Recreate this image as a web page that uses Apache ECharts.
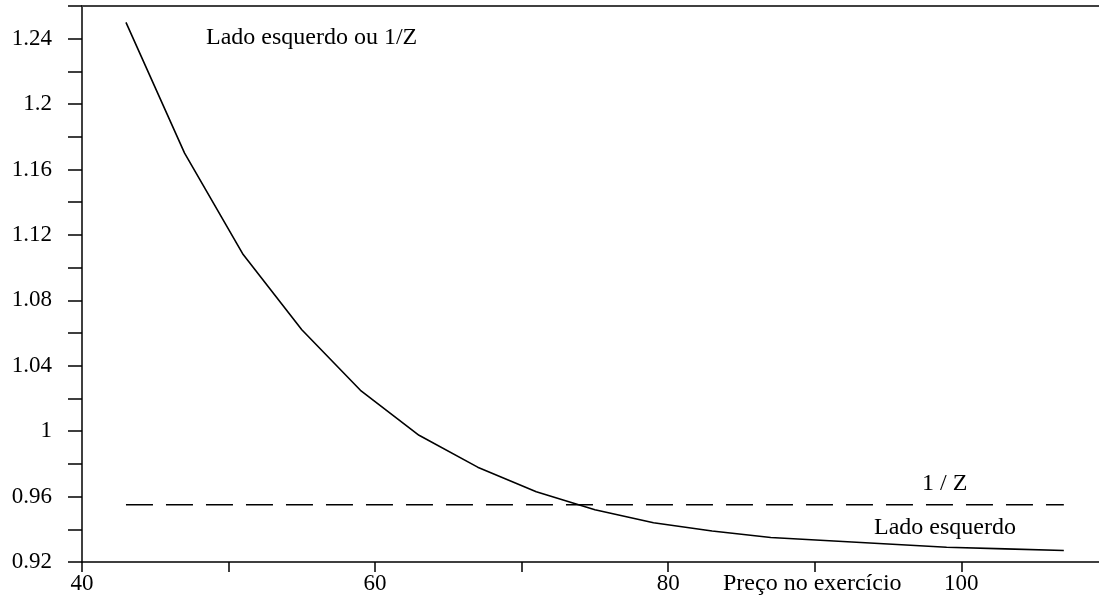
<!DOCTYPE html>
<html>
<head>
<meta charset="utf-8">
<script src="https://cdn.jsdelivr.net/npm/echarts@6/dist/echarts.min.js"></script>
<style>
html,body{margin:0;padding:0;background:#fff;}
#chart{width:1099px;height:600px;}
</style>
</head>
<body>
<div id="chart"></div>
<script>
// Data
var strikes = [43, 47, 51, 55, 59, 63, 67, 71, 75, 79, 83, 87, 91, 95, 99, 103, 107];
var leftSide = [1.250, 1.170, 1.108, 1.062, 1.025, 0.9975, 0.978, 0.963, 0.952, 0.944, 0.939, 0.935, 0.933, 0.931, 0.929, 0.928, 0.927];
var invZStrikes = [43, 107];
var invZValue = 0.955;
var xTicks = [40, 50, 60, 70, 80, 90, 100];
var xTickLabels = [40, 60, 80, 100];
var yTickLabels = ['0.92', '0.96', '1', '1.04', '1.08', '1.12', '1.16', '1.2', '1.24'];

var FONT = 'Liberation Serif';
var chart = echarts.init(document.getElementById('chart'), null, {renderer: 'canvas'});

var lhsData = strikes.map(function (x, i) { return [x, leftSide[i]]; });
var invZData = invZStrikes.map(function (x) { return [x, invZValue]; });

var option = {
  animation: false,
  backgroundColor: '#fff',
  grid: {left: 82, right: 0, top: 6, bottom: 38, containLabel: false},
  xAxis: [{
    type: 'value', min: 40, max: 109.4, position: 'bottom',
    axisLine: {show: true, onZero: false, lineStyle: {color: '#000', width: 1.5}},
    axisTick: {show: true, inside: false, length: 10, customValues: xTicks, lineStyle: {color: '#000', width: 1.5}},
    axisLabel: {
      margin: 10, color: '#000', fontFamily: FONT, fontSize: 23,
      customValues: xTickLabels,
      formatter: function (v) { return String(Math.round(v)); }
    },
    splitLine: {show: false}
  }, {
    type: 'value', min: 40, max: 109.4, position: 'top',
    axisLine: {show: true, onZero: false, lineStyle: {color: '#404040', width: 2}},
    axisTick: {show: false}, axisLabel: {show: false}, splitLine: {show: false}
  }],
  yAxis: {
    type: 'value', min: 0.92, max: 1.26, interval: 0.02,
    axisLine: {show: true, onZero: false, lineStyle: {color: '#000', width: 1.5}},
    axisTick: {show: true, inside: false, length: 14, lineStyle: {color: '#000', width: 1.5}},
    axisLabel: {
      interval: 1, margin: 30, color: '#000', fontFamily: FONT, fontSize: 23,
      formatter: function (v) {
        var s = String(parseFloat(v.toFixed(2)));
        return yTickLabels.indexOf(s) >= 0 ? s : '';
      }
    },
    splitLine: {show: false}
  },
  series: [{
    type: 'line', data: lhsData, symbol: 'none', silent: true,
    lineStyle: {color: '#000', width: 1.6}
  }, {
    type: 'line', data: invZData, symbol: 'none', silent: true,
    lineStyle: {color: '#000', width: 1.6, type: [27, 13]}
  }],
  graphic: [
    {type: 'text', left: 206, top: 26, style: {text: 'Lado esquerdo ou 1/Z', fontFamily: FONT, fontSize: 24, fill: '#000'}},
    {type: 'text', left: 922, top: 472, style: {text: '1 / Z', fontFamily: FONT, fontSize: 24, fill: '#000'}},
    {type: 'text', left: 874, top: 516, style: {text: 'Lado esquerdo', fontFamily: FONT, fontSize: 24, fill: '#000'}},
    {type: 'text', left: 723, top: 572, style: {text: 'Preço no exercício', fontFamily: FONT, fontSize: 24, fill: '#000'}}
  ]
};
chart.setOption(option);
</script>
</body>
</html>
